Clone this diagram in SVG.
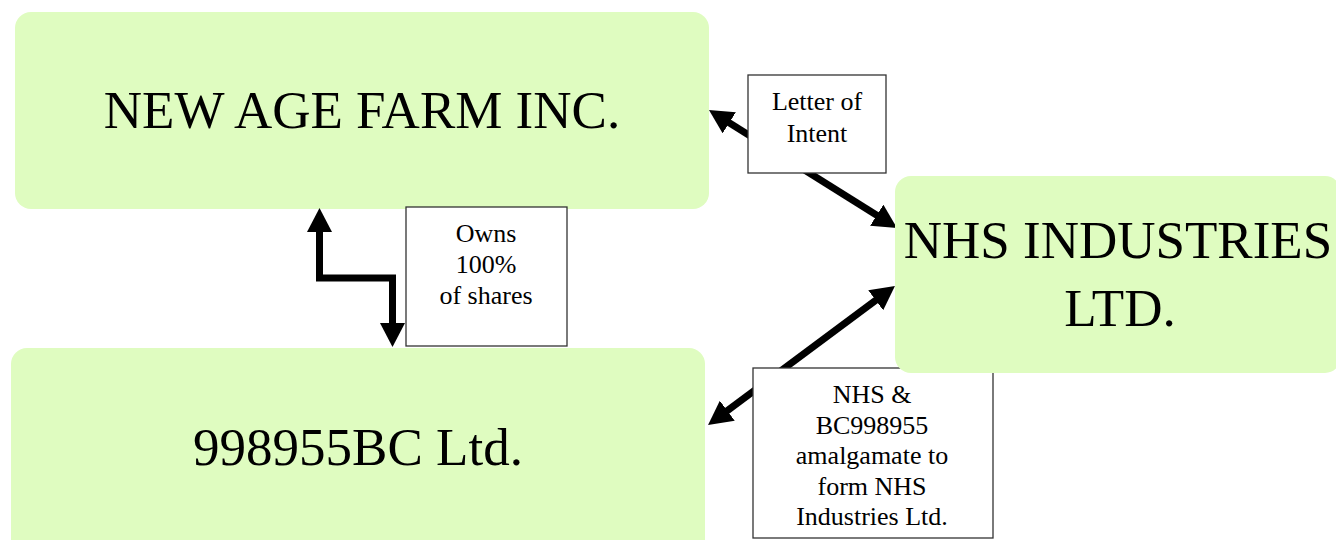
<svg xmlns="http://www.w3.org/2000/svg" width="1336" height="540" viewBox="0 0 1336 540">
<style>
.node{fill:#dffcc0;stroke:none}
.lbl{fill:#ffffff;stroke:#333333;stroke-width:1.3}
.big{font-family:"Liberation Serif","Times New Roman",serif;font-size:53px;fill:#000;text-anchor:middle}
.small{font-family:"Liberation Serif","Times New Roman",serif;font-size:26px;fill:#000;text-anchor:middle}
.conn{fill:none;stroke:#000;stroke-width:7;stroke-linejoin:miter;marker-start:url(#ah);marker-end:url(#ah)}
</style>
<defs>
<marker id="ah" markerUnits="userSpaceOnUse" viewBox="0 0 24 25" markerWidth="24" markerHeight="25" refX="2" refY="12.5" orient="auto-start-reverse">
<path d="M0,0 L24,12.5 L0,25 Z" fill="#000"/>
</marker>
</defs>
<rect width="1336" height="540" fill="#ffffff"/>
<g id="node-newage">
<rect class="node" x="15" y="12" width="694" height="197" rx="16"/>
<text class="big" x="362" y="128">NEW AGE FARM INC.</text>
</g>
<g id="node-998955bc">
<rect class="node" x="11" y="348" width="694" height="210" rx="16"/>
<text class="big" x="358" y="465">998955BC Ltd.</text>
</g>
<g id="connectors">
<path class="conn" d="M319.5,230 L319.5,278 L392.5,278 L392.5,325"/>
<path class="conn" d="M727.6,121.7 L878.4,216.3"/>
<path class="conn" d="M877.3,299.1 L725.7,411.9"/>
</g>
<g id="label-owns">
<rect class="lbl" x="406" y="207" width="161" height="139"/>
<text class="small" x="486" y="242">Owns</text>
<text class="small" x="486" y="273">100%</text>
<text class="small" x="486" y="304">of shares</text>
</g>
<g id="label-loi">
<rect class="lbl" x="748" y="75" width="138" height="98"/>
<text class="small" x="817" y="110">Letter of</text>
<text class="small" x="817" y="142">Intent</text>
</g>
<g id="label-amalgamate">
<rect class="lbl" x="753" y="368" width="240" height="170"/>
<text class="small" x="872" y="403">NHS &amp;</text>
<text class="small" x="872" y="433.5">BC998955</text>
<text class="small" x="872" y="464">amalgamate to</text>
<text class="small" x="872" y="494.5">form NHS</text>
<text class="small" x="872" y="525">Industries Ltd.</text>
</g>
<g id="node-nhs">
<rect class="node" x="895" y="176" width="446" height="197" rx="16"/>
<text class="big" x="1118" y="258">NHS INDUSTRIES</text>
<text class="big" x="1120" y="326">LTD.</text>
</g>
</svg>
